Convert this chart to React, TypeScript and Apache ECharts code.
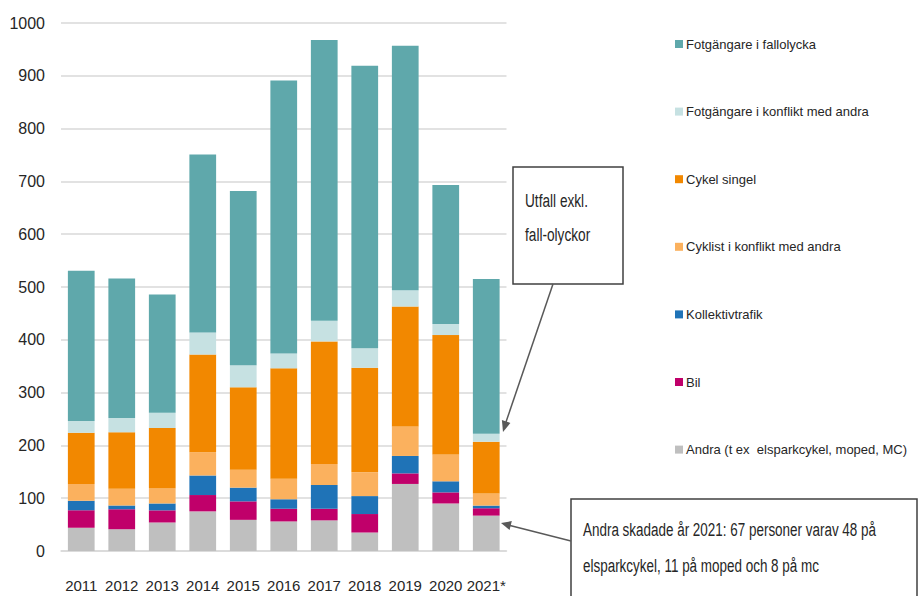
import React, { useEffect, useRef } from "react";
import * as echarts from "echarts";

const years = ["2011", "2012", "2013", "2014", "2015", "2016", "2017", "2018", "2019", "2020", "2021*"];
const andra = [44, 41, 54, 75, 59, 56, 58, 35, 127, 90, 67];
const bil = [33, 38, 23, 31, 35, 24, 22, 35, 20, 21, 14];
const kollektiv = [18, 7, 13, 37, 26, 18, 45, 34, 33, 21, 5];
const cyklistKonflikt = [32, 32, 29, 44, 34, 39, 40, 45, 56, 51, 23];
const cykelSingel = [97, 107, 114, 185, 156, 209, 232, 198, 227, 226, 98];
const fotgKonflikt = [22, 27, 29, 42, 42, 28, 39, 37, 31, 21, 15];
const fotgFall = [285, 264, 224, 337, 330, 517, 532, 535, 463, 263, 293];

const seriesDefs = [
  { name: "Andra (t ex  elsparkcykel, moped, MC)", data: andra, color: "#bfbfbf" },
  { name: "Bil", data: bil, color: "#c0006a" },
  { name: "Kollektivtrafik", data: kollektiv, color: "#1f73b7" },
  { name: "Cyklist i konflikt med andra", data: cyklistKonflikt, color: "#fbb15e" },
  { name: "Cykel singel", data: cykelSingel, color: "#f28800" },
  { name: "Fotgängare i konflikt med andra", data: fotgKonflikt, color: "#c6e1e2" },
  { name: "Fotgängare i fallolycka", data: fotgFall, color: "#5fa8ab" },
];

const FONT = "'Liberation Sans', Arial, sans-serif";
const TEXT = "#262626";

function measure(text: string, font: string): number {
  const ctx = document.createElement("canvas").getContext("2d");
  if (!ctx) return 1;
  ctx.font = font;
  return ctx.measureText(text).width || 1;
}

export default function App() {
  const ref = useRef<HTMLDivElement>(null);
  useEffect(() => {
    document.body.style.margin = "0";
    if (!ref.current) return;
    const chart = echarts.init(ref.current, undefined, { renderer: "svg" });

    const annFont = "19px 'Liberation Sans', Arial, sans-serif";
    const note1a = "Utfall exkl.";
    const note1b = "fall-olyckor";
    const note2a = "Andra skadade år 2021: 67 personer varav 48 på";
    const note2b = "elsparkcykel, 11 på moped och 8 på mc";
    const s1 = 63 / measure(note1a, annFont);
    const s2 = 293 / measure(note2a, annFont);

    chart.setOption({
      animation: false,
      backgroundColor: "#ffffff",
      textStyle: { fontFamily: FONT },
      grid: { left: 61, right: 412.5, top: 23, bottom: 45 },
      legend: {
        orient: "vertical",
        left: 670,
        top: 31,
        icon: "rect",
        itemWidth: 8,
        itemHeight: 8,
        itemGap: 51.6,
        data: seriesDefs.map((s) => s.name).reverse(),
        textStyle: { fontFamily: FONT, fontSize: 13, color: TEXT, lineHeight: 16, padding: [0, 0, 0, -2] },
        selectedMode: false,
      },
      xAxis: {
        type: "category",
        data: years,
        axisLine: { show: true, lineStyle: { color: "#d9d9d9", width: 1.5 } },
        axisTick: { show: false },
        axisLabel: { fontFamily: FONT, fontSize: 15, color: TEXT, margin: 27, interval: 0 },
      },
      yAxis: {
        type: "value",
        min: 0,
        max: 1000,
        interval: 100,
        axisLine: { show: false },
        axisTick: { show: false },
        splitLine: { lineStyle: { color: "#d9d9d9", width: 1.5 } },
        axisLabel: {
          fontFamily: FONT,
          fontSize: 16,
          color: TEXT,
          margin: 16,
          formatter: (v: number) => String(v),
        },
      },
      series: seriesDefs.map((s) => ({
        name: s.name,
        type: "bar",
        stack: "total",
        data: s.data,
        barWidth: "66%",
        itemStyle: { color: s.color },
      })),
      graphic: [
        {
          type: "rect",
          shape: { x: 513, y: 167, width: 110, height: 117 },
          style: { fill: "#ffffff", stroke: "#404040", lineWidth: 1.5 },
        },
        {
          type: "text",
          x: 525,
          y: 191,
          scaleX: s1,
          style: { text: note1a, font: annFont, fill: TEXT },
        },
        {
          type: "text",
          x: 525,
          y: 225,
          scaleX: s1,
          style: { text: note1b, font: annFont, fill: TEXT },
        },
        {
          type: "line",
          shape: { x1: 553, y1: 284, x2: 506, y2: 422 },
          style: { stroke: "#595959", lineWidth: 1.5 },
        },
        {
          type: "polygon",
          shape: { points: [[503, 432], [510.4, 422.9], [501.9, 420.1]] },
          style: { fill: "#595959" },
        },
        {
          type: "rect",
          shape: { x: 571, y: 499, width: 346, height: 110 },
          style: { fill: "#ffffff", stroke: "#404040", lineWidth: 1.5 },
        },
        {
          type: "text",
          x: 583,
          y: 520,
          scaleX: s2,
          style: { text: note2a, font: annFont, fill: TEXT },
        },
        {
          type: "text",
          x: 583,
          y: 556,
          scaleX: s2,
          style: { text: note2b, font: annFont, fill: TEXT },
        },
        {
          type: "line",
          shape: { x1: 571, y1: 541, x2: 510, y2: 525.5 },
          style: { stroke: "#595959", lineWidth: 1.5 },
        },
        {
          type: "polygon",
          shape: { points: [[501, 523], [509.6, 529.9], [511.8, 521.1]] },
          style: { fill: "#595959" },
        },
      ],
    });
    return () => chart.dispose();
  }, []);
  return <div ref={ref} style={{ width: 919, height: 596 }} />;
}
